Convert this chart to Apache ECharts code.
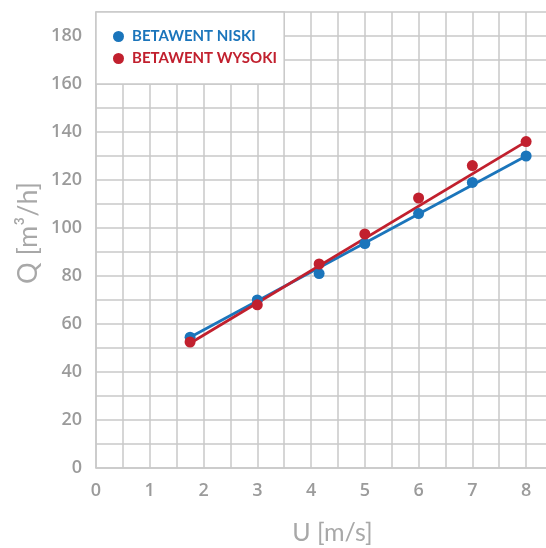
<!DOCTYPE html>
<html>
<head>
<meta charset="utf-8">
<script src="https://cdn.jsdelivr.net/npm/echarts@6/dist/echarts.min.js"></script>
<style>
html,body{margin:0;padding:0;background:#fff;}
#chart{width:546px;height:548px;}
</style>
</head>
<body>
<div id="chart"></div>
<script>
// Flow rate Q against velocity U for two concrete grades
const seriesNames = ['BETAWENT NISKI', 'BETAWENT WYSOKI'];
const uNiski = [1.75, 3, 4.15, 5, 6, 7, 8];
const qNiski = [54.5, 70, 81, 93.5, 106, 119, 130];
const uWysoki = [1.75, 3, 4.15, 5, 6, 7, 8];
const qWysoki = [52.5, 68, 85, 97.5, 112.5, 126, 136];
// fitted trend lines (start and end points)
const trendNiski = [[1.75, 54.5], [8, 130]];
const trendWysoki = [[1.75, 52], [8, 136]];
// legend panel extent in data units
const legendPanelX = [0, 3.5];
const legendPanelY = [160, 190];
const xTicks = [0, 1, 2, 3, 4, 5, 6, 7, 8];
const yTicks = [0, 20, 40, 60, 80, 100, 120, 140, 160, 180];

const colors = ['#1b75bb', '#c1202e'];
const gridColor = '#c9c9c9';
const labelColor = '#9b9b9b';
const font = '"Open Sans", sans-serif';
const titleFont = 'Lato, "Open Sans", sans-serif';

const zip = (a, b) => a.map((v, i) => [v, b[i]]);

const chart = echarts.init(document.getElementById('chart'), null, {renderer: 'canvas'});
chart.setOption({
  animation: false,
  backgroundColor: '#fff',
  grid: {left: 96, right: -7, top: 12, bottom: 80, containLabel: false, outerBoundsMode: 'none'},
  xAxis: {
    type: 'value', min: 0, max: 8.5, interval: 0.5,
    name: 'U [m/s]', nameLocation: 'middle', nameGap: 52, nameMoveOverlap: false,
    nameTextStyle: {color: '#a8a8a8', fontSize: 25, fontFamily: titleFont, padding: [0, 0, 0, 16]},
    axisLine: {show: true, lineStyle: {color: gridColor, width: 1.5}},
    axisTick: {show: false},
    axisLabel: {
      color: labelColor, fontSize: 18, fontWeight: 600, fontFamily: font, margin: 14,
      formatter: v => xTicks.includes(v) ? String(v) : ''
    },
    splitLine: {show: true, lineStyle: {color: gridColor, width: 1.5}}
  },
  yAxis: {
    type: 'value', min: 0, max: 190, interval: 10,
    name: 'Q [m³/h]', nameLocation: 'middle', nameGap: 54, nameMoveOverlap: false,
    nameTextStyle: {color: '#a8a8a8', fontSize: 27, fontFamily: titleFont, padding: [0, 0, 0, 14]},
    axisLine: {show: true, lineStyle: {color: gridColor, width: 1.5}},
    axisTick: {show: false},
    axisLabel: {
      color: labelColor, fontSize: 18, fontWeight: 600, fontFamily: font, margin: 14,
      formatter: v => yTicks.includes(v) ? String(v) : ''
    },
    splitLine: {show: true, lineStyle: {color: gridColor, width: 1.5}}
  },
  legend: {
    orient: 'vertical', left: 108, top: 24, itemGap: 7,
    icon: 'circle', itemWidth: 11, itemHeight: 11,
    data: seriesNames.map((n, i) => ({name: n, textStyle: {color: colors[i]}})),
    textStyle: {fontSize: 15, fontWeight: 'bold', fontFamily: titleFont, padding: [0, 0, 0, 3]},
    selectedMode: false
  },
  series: [
    {
      type: 'line', data: trendNiski, showSymbol: false, silent: true,
      lineStyle: {color: colors[0], width: 2.8}, z: 3,
      markArea: {
        silent: true,
        itemStyle: {color: '#fff', borderColor: gridColor, borderWidth: 1.5},
        data: [[{coord: [legendPanelX[0], legendPanelY[0]]}, {coord: [legendPanelX[1], legendPanelY[1]]}]]
      }
    },
    {
      type: 'line', data: trendWysoki, showSymbol: false, silent: true,
      lineStyle: {color: colors[1], width: 2.8}, z: 3
    },
    {
      name: seriesNames[0], type: 'scatter', data: zip(uNiski, qNiski),
      symbolSize: 11, itemStyle: {color: colors[0], opacity: 1}, z: 4
    },
    {
      name: seriesNames[1], type: 'scatter', data: zip(uWysoki, qWysoki),
      symbolSize: 11, itemStyle: {color: colors[1], opacity: 1}, z: 4
    }
  ]
});
</script>
</body>
</html>
